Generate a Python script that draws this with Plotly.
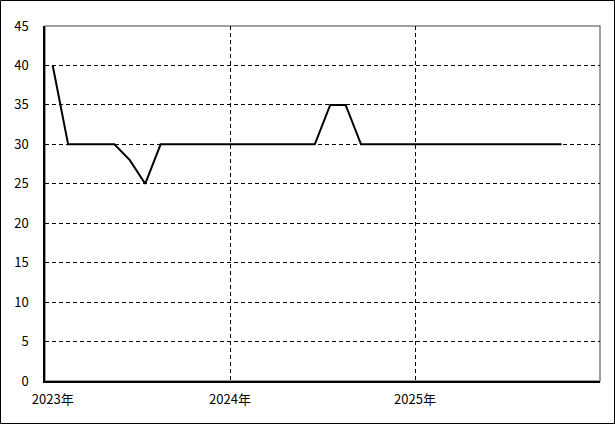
import plotly.graph_objects as go

# month index from Jan 2023
month_index = list(range(34))
values = [40, 30, 30, 30, 30, 28, 25, 30, 30, 30,
          30, 30, 30, 30, 30, 30, 30, 30, 35, 35,
          30, 30, 30, 30, 30, 30, 30, 30, 30, 30,
          30, 30, 30, 30]
x_tick_vals = [0, 11.5, 23.5]
x_tick_text = ["2023年", "2024年", "2025年"]
x_grid_vals = [11.5, 23.5]
y_tick_vals = [0, 5, 10, 15, 20, 25, 30, 35, 40, 45]
y_grid_vals = [5, 10, 15, 20, 25, 30, 35, 40]

FONT = "Noto Sans CJK JP"

fig = go.Figure()
fig.add_trace(go.Scatter(x=month_index, y=values, mode="lines",
                         line=dict(color="black", width=2), showlegend=False))

W, H = 615, 424
L, R, T, B = 45, 15, 26, 43
pw, ph = W - L - R, H - T - B

fig.update_layout(
    width=W, height=H,
    margin=dict(l=L, r=R, t=T, b=B, pad=0),
    paper_bgcolor="white", plot_bgcolor="white",
    font=dict(family=FONT, size=13, color="black"),
    xaxis=dict(range=[-0.5, 35.5], tickmode="array", tickvals=x_tick_vals,
               ticktext=x_tick_text, showgrid=False, zeroline=False,
               showline=True, linecolor="black", linewidth=1.5, ticks="",
               ticklabelstandoff=6,
               minor=dict(tickmode="array", tickvals=x_grid_vals, showgrid=True,
                          gridcolor="black", gridwidth=1, griddash="4px,3px", ticks="")),
    yaxis=dict(range=[0, 45], tickmode="array", tickvals=y_tick_vals,
               showgrid=False, zeroline=False, showline=True, linecolor="black",
               linewidth=1.5, ticks="", ticklabelstandoff=12,
               minor=dict(tickmode="array", tickvals=y_grid_vals, showgrid=True,
                          gridcolor="black", gridwidth=1, griddash="4px,3px", ticks="")),
    shapes=[
        dict(type="rect", xref="paper", yref="paper", x0=0, x1=1, y0=0, y1=1,
             line=dict(color="#808080", width=1.5), layer="below"),
        dict(type="rect", xref="paper", yref="paper",
             x0=(0.5 - L) / pw, x1=(W - 0.5 - L) / pw,
             y0=(H - B - (H - 0.5)) / ph, y1=(H - B - 0.5) / ph,
             line=dict(color="black", width=1)),
    ],
)

fig.write_html("out.html", config={"displayModeBar": False},
               post_script="document.body.style.margin='0';document.body.style.overflow='hidden';")
